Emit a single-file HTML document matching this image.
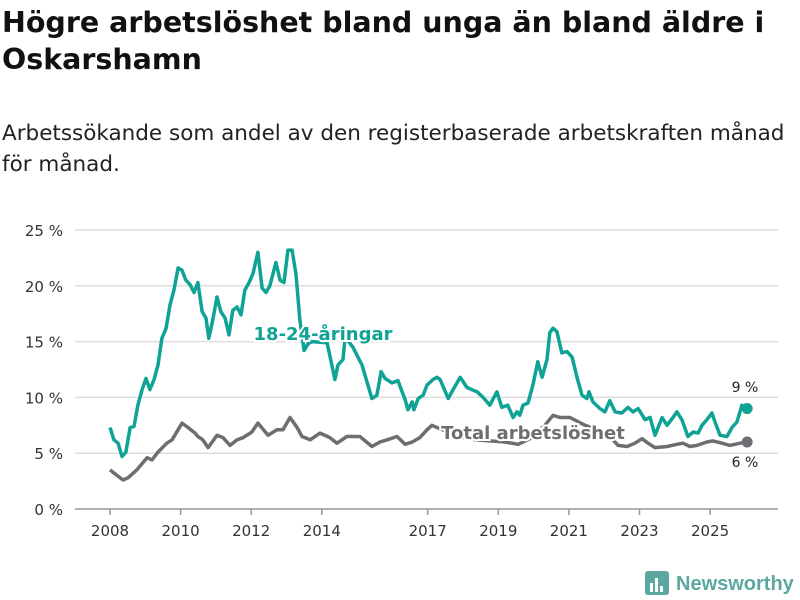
<!DOCTYPE html>
<html><head><meta charset="utf-8"><style>
body{margin:0;width:800px;height:600px;background:#fff;font-family:"DejaVu Sans","Liberation Sans",sans-serif;overflow:hidden}
h1{position:absolute;left:2px;top:4px;margin:0;font-size:28.5px;line-height:37px;font-weight:bold;color:#111;width:798px}
p{position:absolute;left:2px;top:118px;margin:0;font-size:21.5px;line-height:31px;color:#222;width:790px}
svg{position:absolute;left:0;top:0;font-family:"DejaVu Sans","Liberation Sans",sans-serif}
</style></head><body>
<h1>Högre arbetslöshet bland unga än bland äldre i Oskarshamn</h1>
<p>Arbetssökande som andel av den registerbaserade arbetskraften månad för månad.</p>
<svg id="chart" width="800" height="600"></svg>
<script>
const yTicks=[0,5,10,15,20,25];
const yTickLabels=["0 %","5 %","10 %","15 %","20 %","25 %"];
const xTicks=[2008,2010,2012,2014,2017,2019,2021,2023,2025];
const youthDates=[2008.00,2008.11,2008.23,2008.34,2008.45,2008.57,2008.68,2008.79,2008.91,2009.02,2009.13,2009.25,2009.36,2009.47,2009.59,2009.70,2009.81,2009.93,2010.04,2010.15,2010.27,2010.38,2010.49,2010.61,2010.72,2010.80,2010.92,2011.03,2011.14,2011.26,2011.37,2011.48,2011.60,2011.71,2011.82,2011.94,2012.05,2012.19,2012.31,2012.42,2012.53,2012.70,2012.82,2012.93,2013.04,2013.16,2013.27,2013.38,2013.50,2013.61,2013.72,2014.15,2014.37,2014.46,2014.60,2014.66,2014.88,2015.14,2015.42,2015.56,2015.68,2015.79,2015.99,2016.16,2016.36,2016.44,2016.56,2016.61,2016.73,2016.87,2016.98,2017.15,2017.26,2017.35,2017.58,2017.72,2017.92,2018.11,2018.25,2018.40,2018.57,2018.76,2018.96,2019.10,2019.27,2019.42,2019.53,2019.61,2019.70,2019.84,2019.98,2020.12,2020.24,2020.38,2020.46,2020.55,2020.66,2020.80,2020.95,2021.09,2021.23,2021.37,2021.51,2021.57,2021.68,2021.88,2022.02,2022.16,2022.31,2022.50,2022.67,2022.82,2022.96,2023.16,2023.30,2023.44,2023.64,2023.78,2023.95,2024.06,2024.20,2024.37,2024.52,2024.66,2024.77,2024.91,2025.05,2025.14,2025.28,2025.48,2025.62,2025.76,2025.90,2026.05];
const youthValues=[7.3,6.2,5.9,4.7,5.1,7.3,7.4,9.3,10.7,11.7,10.7,11.6,12.9,15.3,16.2,18.3,19.6,21.6,21.4,20.5,20.1,19.4,20.3,17.7,17.1,15.3,17.1,19.0,17.7,17.1,15.6,17.8,18.1,17.4,19.6,20.3,21.1,23.0,19.8,19.4,20.0,22.1,20.5,20.3,23.2,23.2,21.0,16.9,14.2,14.8,15.0,14.9,11.6,12.9,13.4,15.4,14.5,12.9,9.9,10.2,12.3,11.7,11.3,11.5,9.8,8.9,9.6,8.9,9.9,10.2,11.1,11.6,11.8,11.6,9.9,10.7,11.8,10.9,10.7,10.5,10.0,9.3,10.5,9.1,9.3,8.2,8.7,8.4,9.3,9.5,11.1,13.2,11.8,13.4,15.8,16.2,15.9,14.0,14.1,13.6,11.8,10.2,9.9,10.5,9.6,9.0,8.7,9.7,8.7,8.6,9.1,8.7,9.0,8.0,8.2,6.6,8.2,7.5,8.2,8.7,8.0,6.5,6.9,6.8,7.5,8.0,8.6,7.8,6.6,6.5,7.3,7.8,9.3,9.0];
const totalDates=[2008.00,2008.20,2008.37,2008.51,2008.76,2009.05,2009.19,2009.36,2009.61,2009.76,2010.04,2010.21,2010.41,2010.49,2010.63,2010.78,2011.03,2011.20,2011.40,2011.60,2011.77,2012.02,2012.19,2012.48,2012.73,2012.90,2013.10,2013.30,2013.44,2013.67,2013.95,2014.23,2014.43,2014.71,2015.08,2015.42,2015.65,2015.85,2016.13,2016.36,2016.56,2016.78,2016.98,2017.12,2017.49,2017.92,2018.34,2018.76,2019.19,2019.56,2019.90,2020.32,2020.55,2020.75,2021.03,2021.46,2021.88,2022.22,2022.39,2022.65,2022.87,2023.07,2023.24,2023.44,2023.78,2024.06,2024.23,2024.43,2024.63,2024.91,2025.08,2025.34,2025.56,2025.85,2026.05];
const totalValues=[3.5,3.0,2.6,2.8,3.5,4.6,4.4,5.1,5.9,6.2,7.7,7.3,6.8,6.5,6.2,5.5,6.6,6.4,5.7,6.2,6.4,6.9,7.7,6.6,7.1,7.1,8.2,7.3,6.5,6.2,6.8,6.4,5.9,6.5,6.5,5.6,6.0,6.2,6.5,5.8,6.0,6.4,7.1,7.5,7.0,6.5,6.2,6.1,6.0,5.8,6.3,7.5,8.4,8.2,8.2,7.5,7.0,6.3,5.7,5.6,5.9,6.3,5.9,5.5,5.6,5.8,5.9,5.6,5.7,6.0,6.1,5.9,5.7,5.9,6.0];

const NS='http://www.w3.org/2000/svg';
const svg=document.getElementById('chart');
const X=t=>110+(t-2008)*35.3;
const Y=v=>509-v*11.16;
function mk(tag,attrs,parent){const e=document.createElementNS(NS,tag);for(const k in attrs)e.setAttribute(k,attrs[k]);(parent||svg).appendChild(e);return e;}
yTicks.forEach((v,i)=>{
  const g=mk('line',{x1:75,x2:778,y1:Y(v),y2:Y(v),stroke:v===0?'#999':'#ddd','stroke-width':1.5});
  
  
  const t=mk('text',{x:63,y:Y(v)+6,'text-anchor':'end','font-size':15,fill:'#333'});
  t.textContent=yTickLabels[i];
  
  
});
xTicks.forEach(yr=>{
  const l=mk('line',{x1:X(yr),x2:X(yr),y1:509,y2:515,stroke:'#999','stroke-width':1.5});
  
  
  const t=mk('text',{x:X(yr),y:536,'text-anchor':'middle','font-size':15,fill:'#333'});
  t.textContent=yr;
  
  
});
function line(d,v,col,name){
  const p=mk('path',{d:d.map((t,i)=>(i?'L':'M')+X(t).toFixed(1)+','+Y(v[i]).toFixed(1)).join(''),fill:'none',stroke:col,'stroke-width':3.5,'stroke-linejoin':'round'});
  
  
  const c=mk('circle',{cx:X(d[d.length-1]),cy:Y(v[v.length-1]),r:5.5,fill:col});
  
  
}
line(totalDates,totalValues,'#6e6d72','total-line');
line(youthDates,youthValues,'#0fa396','youth-line');
function lbl(x,y,txt,col,name,size,bold,halo){
  const t=mk('text',{x:x,y:y,'font-size':size,'font-weight':bold?'bold':'normal',fill:col,'text-anchor':'middle'});
  if(halo){t.setAttribute('stroke','#fff');t.setAttribute('stroke-width',4);t.setAttribute('paint-order','stroke');}
  t.textContent=txt;
  
  
}
lbl(323,340,'18-24-åringar','#0fa396','youth-series-label',18,true,true);
lbl(533,439,'Total arbetslöshet','#6e6d72','total-series-label',18,true,true);
lbl(745,392,'9 %','#222','youth-end-value',14,false,true);
lbl(745,467,'6 %','#222','total-end-value',14,false,true);
</script>
<svg width="800" height="600" style="pointer-events:none">
<rect x="645" y="571" width="24" height="24" rx="3" fill="#5aa8a0"/>
<rect x="650" y="583" width="3" height="9" fill="#fff"/><rect x="655" y="578" width="3" height="14" fill="#fff"/><rect x="660" y="586" width="3" height="6" fill="#fff"/>
<text x="676" y="590" font-size="20" font-weight="bold" fill="#5aa8a0" font-family="Liberation Sans, sans-serif">Newsworthy</text>
</svg>
</body></html>
